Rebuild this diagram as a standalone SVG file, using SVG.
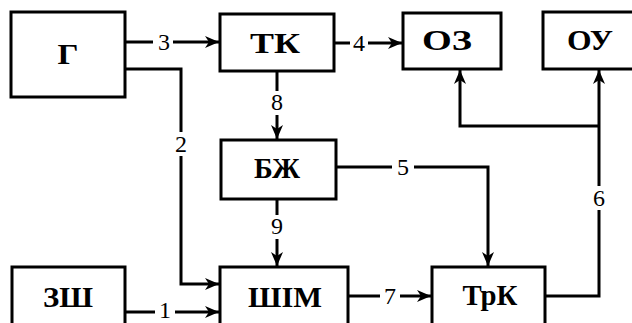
<svg xmlns="http://www.w3.org/2000/svg" width="632" height="323" viewBox="0 0 632 323">
<defs>
<marker id="ah" viewBox="0 0 14 12" refX="14" refY="6" markerWidth="14" markerHeight="12" markerUnits="userSpaceOnUse" orient="auto">
<path d="M0,0 L14,6 L0,12 L4,6 Z" fill="#000"/>
</marker>
<style>
.box{fill:#fff;stroke:#000;stroke-width:3}
.lbl{font-family:"Liberation Serif","DejaVu Serif","Times New Roman",serif;font-weight:bold;font-size:29px;text-anchor:middle;fill:#000}
.num{font-family:"Liberation Serif","DejaVu Serif","Times New Roman",serif;font-size:24px;text-anchor:middle;fill:#000}
.ln{fill:none;stroke:#000;stroke-width:3}
.bg{fill:#fff}
</style>
</defs>
<rect width="632" height="323" fill="#fff"/>
<g id="connectors">
<path class="ln" d="M125,42 H219" marker-end="url(#ah)"/>
<path class="ln" d="M125,69 H181 V284 H219" marker-end="url(#ah)"/>
<path class="ln" d="M277,71 V139" marker-end="url(#ah)"/>
<path class="ln" d="M277,199 V266" marker-end="url(#ah)"/>
<path class="ln" d="M334,43 H402" marker-end="url(#ah)"/>
<path class="ln" d="M336,167 H488 V266" marker-end="url(#ah)"/>
<path class="ln" d="M348,296 H431" marker-end="url(#ah)"/>
<path class="ln" d="M125,312 H219" marker-end="url(#ah)"/>
<path class="ln" d="M545,296 H599 V70" marker-end="url(#ah)"/>
<path class="ln" d="M599,126 H460 V70" marker-end="url(#ah)"/>
<rect class="bg" x="153" y="30" width="20" height="24"/>
<text class="num" x="164" y="50">3</text>
<rect class="bg" x="350" y="31" width="18" height="24"/>
<text class="num" x="359" y="51">4</text>
<rect class="bg" x="171" y="132" width="20" height="24"/>
<text class="num" x="181" y="152">2</text>
<rect class="bg" x="268" y="91" width="18" height="24"/>
<text class="num" x="277" y="110">8</text>
<rect class="bg" x="268" y="215" width="18" height="24"/>
<text class="num" x="277" y="234">9</text>
<rect class="bg" x="392" y="155" width="22" height="24"/>
<text class="num" x="403" y="175">5</text>
<rect class="bg" x="589" y="186" width="20" height="24"/>
<text class="num" x="599" y="206">6</text>
<rect class="bg" x="380" y="284" width="20" height="24"/>
<text class="num" x="390" y="304">7</text>
<rect class="bg" x="155" y="300" width="20" height="23"/>
<text class="num" x="165" y="318">1</text>
</g>
<g id="G"><rect class="box" x="11" y="12" width="114" height="85"/><text class="lbl" x="68" y="64" font-size="32" textLength="21" lengthAdjust="spacingAndGlyphs">Г</text></g>
<g id="TK"><rect class="box" x="220" y="14" width="114" height="57"/><text class="lbl" x="275" y="53" textLength="50" lengthAdjust="spacingAndGlyphs">ТК</text></g>
<g id="OZ"><rect class="box" x="403" y="13" width="98" height="56"/><text class="lbl" x="447" y="50" textLength="50" lengthAdjust="spacingAndGlyphs">ОЗ</text></g>
<g id="OU"><rect class="box" x="543" y="12" width="95" height="57"/><text class="lbl" x="590" y="50" textLength="46" lengthAdjust="spacingAndGlyphs">ОУ</text></g>
<g id="BZh"><rect class="box" x="221" y="140" width="115" height="59"/><text class="lbl" x="277" y="178" textLength="46" lengthAdjust="spacingAndGlyphs">БЖ</text></g>
<g id="ZSh"><rect class="box" x="12" y="267" width="113" height="70"/><text class="lbl" x="68" y="307" textLength="50" lengthAdjust="spacingAndGlyphs">ЗШ</text></g>
<g id="ShIM"><rect class="box" x="220" y="267" width="128" height="70"/><text class="lbl" x="285" y="307" textLength="74" lengthAdjust="spacingAndGlyphs">ШІМ</text></g>
<g id="TrK"><rect class="box" x="432" y="267" width="113" height="70"/><text class="lbl" x="490" y="305" textLength="55" lengthAdjust="spacingAndGlyphs">ТрК</text></g>
</svg>
